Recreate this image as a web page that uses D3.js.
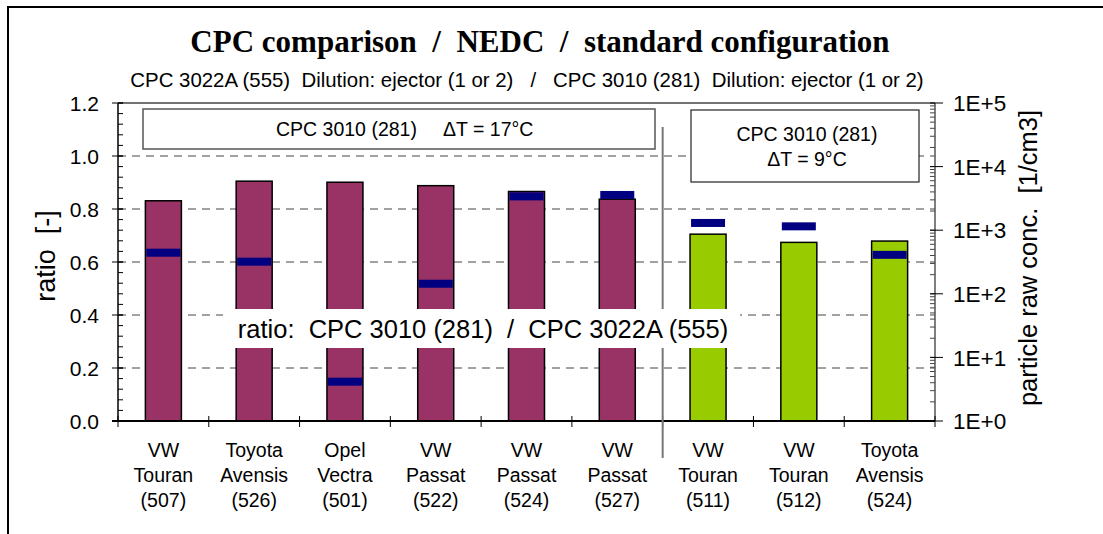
<!DOCTYPE html>
<html>
<head>
<meta charset="utf-8">
<script src="https://cdn.jsdelivr.net/npm/d3@7"></script>
<style>
  body { margin: 0; background: #fff; }
  svg { display: block; }
</style>
</head>
<body>
<svg id="chart"></svg>
<script>
var cars = [
  ['VW', 'Touran', '(507)'],
  ['Toyota', 'Avensis', '(526)'],
  ['Opel', 'Vectra', '(501)'],
  ['VW', 'Passat', '(522)'],
  ['VW', 'Passat', '(524)'],
  ['VW', 'Passat', '(527)'],
  ['VW', 'Touran', '(511)'],
  ['VW', 'Touran', '(512)'],
  ['Toyota', 'Avensis', '(524)']
];
var ratios = [0.831, 0.905, 0.901, 0.888, 0.866, 0.837, 0.705, 0.674, 0.679];
var rawConc = [443, 320, 4.15, 144, 3400, 3580, 1300, 1150, 410];
var groups = ['dT17', 'dT17', 'dT17', 'dT17', 'dT17', 'dT17', 'dT9', 'dT9', 'dT9'];
var leftTicks = [0, 0.2, 0.4, 0.6, 0.8, 1.0, 1.2];
var rightTicks = [1, 10, 100, 1000, 10000, 100000];

var ids = cars.map(c => c[2] + c[0] + c[1]);
var fmtRight = d => '1E+' + Math.round(Math.log10(d));

var svg = d3.select('#chart')
    .attr('width', 1103)
    .attr('height', 534)
    .style('font-family', 'Arial, "Liberation Sans", sans-serif');

var x = d3.scaleBand().domain(ids).range([118, 935]);
var y = d3.scaleLinear().domain([0, 1.2]).range([421, 103]);
var yR = d3.scaleLog().domain([1, 1e5]).range([421, 103]);

var color = d3.scaleOrdinal()
    .domain(['dT17', 'dT9'])
    .range(['#993366', '#99cc00']);

// frame
svg.append('path')
    .attr('d', 'M8,534V7H1103')
    .attr('fill', 'none')
    .attr('stroke', '#000')
    .attr('stroke-width', 2);

svg.append('text')
    .attr('x', 540).attr('y', 52)
    .attr('text-anchor', 'middle')
    .style('font-family', '"Times New Roman", "Liberation Serif", serif')
    .style('font-weight', 'bold')
    .style('font-size', '31px')
    .attr('xml:space', 'preserve')
    .text('CPC comparison  /  NEDC  /  standard configuration');

svg.append('text')
    .attr('x', 527).attr('y', 87)
    .attr('text-anchor', 'middle')
    .style('font-size', '20.4px')
    .attr('xml:space', 'preserve')
    .text('CPC 3022A (555)  Dilution: ejector (1 or 2)   /   CPC 3010 (281)  Dilution: ejector (1 or 2)');

// grid
svg.append('g')
    .selectAll('line')
    .data(leftTicks.filter(d => d > 0 && d < 1.2))
    .join('line')
    .attr('x1', 118).attr('x2', 935)
    .attr('y1', d => y(d)).attr('y2', d => y(d))
    .attr('stroke', '#444')
    .attr('stroke-dasharray', '8,6');

svg.append('line')
    .attr('x1', 118).attr('x2', 935)
    .attr('y1', y(1.2)).attr('y2', y(1.2))
    .attr('stroke', '#444')
    .attr('stroke-width', 1.5);

// bars
svg.append('g')
    .selectAll('rect')
    .data(ratios)
    .join('rect')
    .attr('x', (d, i) => x(ids[i]) + x.bandwidth() / 2 - 18)
    .attr('width', 36)
    .attr('y', d => y(d))
    .attr('height', d => y(0) - y(d))
    .attr('fill', (d, i) => color(groups[i]))
    .attr('stroke', '#000')
    .attr('stroke-width', 1.5);

// raw concentration markers
svg.append('g')
    .selectAll('rect')
    .data(rawConc)
    .join('rect')
    .attr('x', (d, i) => x(ids[i]) + x.bandwidth() / 2 - 17)
    .attr('width', 34)
    .attr('y', d => yR(d) - 4)
    .attr('height', 8)
    .attr('fill', '#000080');

// left axis
var left = svg.append('g').attr('transform', 'translate(118,0)');
left.append('line')
    .attr('y1', y(1.2)).attr('y2', y(0))
    .attr('stroke', '#000').attr('stroke-width', 1.5);
left.selectAll('.minor')
    .data(d3.range(0, 1.2001, 0.04))
    .join('line')
    .attr('x1', 0).attr('x2', 5)
    .attr('y1', d => y(d)).attr('y2', d => y(d))
    .attr('stroke', '#000');
left.selectAll('.major')
    .data(leftTicks)
    .join('line')
    .attr('x1', -6).attr('x2', 5)
    .attr('y1', d => y(d)).attr('y2', d => y(d))
    .attr('stroke', '#000');
left.selectAll('text')
    .data(leftTicks)
    .join('text')
    .attr('x', -19)
    .attr('y', d => y(d))
    .attr('dy', '0.36em')
    .attr('text-anchor', 'end')
    .style('font-size', '21px')
    .text(d3.format('.1f'));

// right axis
var right = svg.append('g').attr('transform', 'translate(935,0)');
right.append('line')
    .attr('y1', yR(1e5)).attr('y2', yR(1))
    .attr('stroke', '#555').attr('stroke-width', 1.5);
right.selectAll('.minor')
    .data(yR.ticks().filter(d => d < 1e5))
    .join('line')
    .attr('x1', -5).attr('x2', 0)
    .attr('y1', d => yR(d)).attr('y2', d => yR(d))
    .attr('stroke', '#444');
right.selectAll('.major')
    .data(rightTicks)
    .join('line')
    .attr('x1', -5).attr('x2', 8)
    .attr('y1', d => yR(d)).attr('y2', d => yR(d))
    .attr('stroke', '#000');
right.selectAll('text')
    .data(rightTicks)
    .join('text')
    .attr('x', 18)
    .attr('y', d => yR(d))
    .attr('dy', '0.36em')
    .style('font-size', '22.5px')
    .text(fmtRight);

// baseline with category ticks
svg.append('line')
    .attr('x1', 112).attr('x2', 935)
    .attr('y1', y(0)).attr('y2', y(0))
    .attr('stroke', '#000').attr('stroke-width', 2);
svg.append('g')
    .selectAll('line')
    .data(ids.concat(['end']))
    .join('line')
    .attr('x1', d => d === 'end' ? 935 : x(d))
    .attr('x2', d => d === 'end' ? 935 : x(d))
    .attr('y1', y(0) - 5).attr('y2', y(0) + 6)
    .attr('stroke', '#000');

// category labels
var cat = svg.append('g')
    .attr('text-anchor', 'middle')
    .style('font-size', '19.5px')
    .selectAll('text')
    .data(cars)
    .join('text')
    .attr('transform', (d, i) => `translate(${x(ids[i]) + x.bandwidth() / 2},0)`);
cat.selectAll('tspan')
    .data(d => d)
    .join('tspan')
    .attr('x', 0)
    .attr('y', (d, j) => 457 + j * 25)
    .text(d => d);

// divider between the two groups
svg.append('line')
    .attr('x1', x(ids[6])).attr('x2', x(ids[6]))
    .attr('y1', 127).attr('y2', 458)
    .attr('stroke', '#777').attr('stroke-width', 2);

// info boxes
svg.append('rect')
    .attr('x', 143).attr('y', 109).attr('width', 512).attr('height', 40)
    .attr('fill', '#fff').attr('stroke', '#555').attr('stroke-width', 1.5);
svg.append('text')
    .attr('x', 276).attr('y', 136)
    .style('font-size', '19.5px')
    .text('CPC 3010 (281)');
svg.append('text')
    .attr('x', 443).attr('y', 136)
    .style('font-size', '19.5px')
    .text('\u0394T = 17°C');

svg.append('rect')
    .attr('x', 691).attr('y', 110).attr('width', 228).attr('height', 72)
    .attr('fill', '#fff').attr('stroke', '#222').attr('stroke-width', 1.2);
svg.append('text')
    .attr('x', 807).attr('y', 141)
    .attr('text-anchor', 'middle')
    .style('font-size', '19.5px')
    .text('CPC 3010 (281)');
svg.append('text')
    .attr('x', 807).attr('y', 166)
    .attr('text-anchor', 'middle')
    .style('font-size', '19.5px')
    .text('\u0394T = 9°C');

// ratio label
svg.append('rect')
    .attr('x', 223).attr('y', 309).attr('width', 517).attr('height', 39)
    .attr('fill', '#fff');
svg.append('text')
    .attr('x', 483).attr('y', 338)
    .attr('text-anchor', 'middle')
    .style('font-size', '25.5px')
    .attr('xml:space', 'preserve')
    .text('ratio:  CPC 3010 (281)  /  CPC 3022A (555)');

// axis titles
svg.append('text')
    .attr('transform', 'translate(46,256) rotate(-90)')
    .attr('text-anchor', 'middle')
    .attr('dy', '0.35em')
    .style('font-size', '27px')
    .attr('xml:space', 'preserve')
    .text('ratio  [-]');

svg.append('text')
    .attr('transform', 'translate(1028,258) rotate(-90)')
    .attr('text-anchor', 'middle')
    .attr('dy', '0.35em')
    .style('font-size', '25.5px')
    .attr('xml:space', 'preserve')
    .text('particle raw conc.  [1/cm3]');
</script>
</body>
</html>
